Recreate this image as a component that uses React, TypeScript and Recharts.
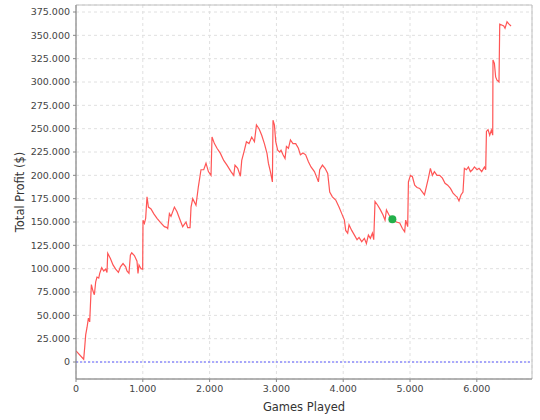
import { LineChart, Line, XAxis, YAxis, CartesianGrid, ReferenceLine, ReferenceDot, ReferenceArea } from 'recharts';

// games played (x) and running total profit in $ (y)
const GAMES = [
  0, 115, 130, 145, 165, 186, 205, 216, 230, 254, 275, 295, 314, 340, 355, 385, 415, 444, 464, 475,
  515, 554, 594, 635, 665, 704, 744, 763, 793, 814, 834, 874, 913, 928, 943, 973, 998, 1003, 1024, 1043,
  1063, 1084, 1123, 1163, 1213, 1263, 1323, 1362, 1373, 1398, 1422, 1473, 1512, 1548, 1597, 1647, 1672, 1707, 1722, 1747,
  1796, 1832, 1871, 1912, 1946, 1982, 2021, 2036, 2072, 2111, 2162, 2211, 2260, 2320, 2361, 2380, 2421, 2461, 2481, 2521,
  2551, 2590, 2630, 2671, 2701, 2740, 2780, 2820, 2859, 2880, 2910, 2940, 2949, 2970, 2990, 3019, 3049, 3069, 3099, 3129,
  3150, 3180, 3210, 3248, 3289, 3329, 3359, 3398, 3438, 3479, 3518, 3569, 3608, 3629, 3648, 3689, 3728, 3768, 3798, 3838,
  3888, 3937, 3978, 4018, 4037, 4067, 4087, 4127, 4168, 4207, 4237, 4277, 4317, 4347, 4377, 4407, 4437, 4457, 4476, 4516,
  4557, 4596, 4626, 4647, 4686, 4736, 4796, 4846, 4886, 4920, 4935, 4965, 4976, 5006, 5036, 5070, 5105, 5145, 5186, 5216,
  5245, 5275, 5305, 5335, 5365, 5404, 5444, 5485, 5524, 5564, 5605, 5644, 5684, 5703, 5733, 5763, 5793, 5814, 5844, 5874,
  5904, 5934, 5964, 6003, 6033, 6073, 6114, 6133, 6144, 6168, 6193, 6218, 6238, 6242, 6263, 6282, 6302, 6332, 6343, 6373,
  6403, 6422, 6452, 6482, 6512,
];

const PROFIT = [
  12000, 3000, 15500, 29000, 37000, 47000, 43000, 61000, 83000, 76000, 72000, 86000, 91000, 90000, 95000, 101000, 97500, 99500, 96000, 116500,
  111000, 104000, 99500, 96000, 102000, 105500, 102000, 97500, 95000, 114500, 117000, 114000, 108000, 95000, 104000, 100000, 99500, 152000, 148500, 154000,
  177000, 166000, 164000, 159000, 154000, 149500, 145000, 144000, 143000, 159000, 156000, 166000, 161000, 154000, 145000, 150000, 144000, 144000, 166000, 175000,
  168000, 188000, 206000, 206000, 213000, 204000, 200000, 241000, 234000, 229000, 223500, 216000, 211000, 204000, 200000, 211000, 207500, 199000, 216000, 227000,
  236000, 234000, 241000, 236000, 254000, 250000, 243000, 234000, 223500, 213000, 204000, 193000, 259000, 254000, 236000, 227000, 225000, 227000, 222000, 218000,
  231000, 229000, 238000, 234000, 234000, 229000, 222000, 224000, 222000, 214500, 209000, 204000, 197000, 193000, 206000, 211000, 207500, 202000, 182000, 177000,
  173500, 166000, 159000, 152000, 141000, 138000, 147000, 141000, 136000, 131000, 133500, 129000, 132500, 127000, 136000, 132500, 138000, 131000, 172000, 168000,
  163000, 157500, 152000, 163000, 157500, 153000, 150000, 149000, 143000, 139500, 152000, 145000, 193000, 200000, 198500, 189500, 187000, 186000, 182000, 179000,
  188000, 197000, 207500, 200000, 204000, 200000, 200000, 197000, 191500, 189500, 186000, 181000, 178000, 177000, 172500, 179000, 182000, 207500, 206000, 209000,
  204000, 206000, 209000, 206000, 207500, 204000, 209000, 206000, 247000, 249000, 243000, 248500, 243000, 323500, 320000, 305500, 302000, 300000, 362000, 361000,
  360000, 357500, 364500, 362000, 360000,
];

const X_TICKS = [0, 1000, 2000, 3000, 4000, 5000, 6000];
const Y_TICKS = [0, 25000, 50000, 75000, 100000, 125000, 150000, 175000, 200000, 225000, 250000, 275000, 300000, 325000, 350000, 375000];
const X_DOMAIN = [0, 6826];
const Y_DOMAIN = [-18200, 382500];

// highlighted point
const MARK = { games: 4736, profit: 153000 };

const data = GAMES.map((g, i) => ({ games: g, profit: PROFIT[i] }));

const fmt = (v: number) => (v === 0 ? '0' : Math.round(v).toLocaleString('en-US').replace(/,/g, '.'));

const FONT = '"DejaVu Sans", sans-serif';

export default function App() {
  return (
    <div style={{ position: 'absolute', left: 0, top: 0, width: 540, height: 420, background: '#fff' }}>
      <LineChart width={540} height={420} data={data} margin={{ top: 5, right: 8, left: 0, bottom: 0 }}>
        <CartesianGrid stroke="#e0e0e0" strokeDasharray="3 3" />
        <ReferenceArea
          x1={X_DOMAIN[0]}
          x2={X_DOMAIN[1]}
          y1={Y_DOMAIN[0]}
          y2={Y_DOMAIN[1]}
          fill="none"
          fillOpacity={0}
          stroke="#c0c0c0"
          ifOverflow="visible"
        />
        <XAxis
          type="number"
          dataKey="games"
          domain={X_DOMAIN}
          ticks={X_TICKS}
          allowDataOverflow
          tickFormatter={fmt}
          height={41}
          stroke="#888"
          tickSize={3}
          tickMargin={3}
          tick={{ fill: '#444', fontSize: 9.5, fontFamily: FONT }}
          label={{ value: 'Games Played', position: 'insideBottom', offset: 9, fill: '#333', fontSize: 11.5, fontFamily: FONT }}
        />
        <YAxis
          type="number"
          domain={Y_DOMAIN}
          ticks={Y_TICKS}
          allowDataOverflow
          tickFormatter={fmt}
          width={76}
          stroke="#888"
          tickSize={3}
          tickMargin={3}
          tick={{ fill: '#444', fontSize: 9.5, fontFamily: FONT }}
          label={{
            value: 'Total Profit ($)',
            angle: -90,
            position: 'insideLeft',
            offset: 20,
            fill: '#333',
            fontSize: 11.5,
            fontFamily: FONT,
            style: { textAnchor: 'middle' },
          }}
        />
        <ReferenceLine y={0} stroke="#5a5aff" strokeDasharray="2 2" />
        <Line
          type="linear"
          dataKey="profit"
          stroke="#ff5555"
          strokeWidth={1.2}
          dot={false}
          isAnimationActive={false}
        />
        <ReferenceDot x={MARK.games} y={MARK.profit} r={4} fill="#22b04a" stroke="none" />
      </LineChart>
    </div>
  );
}
